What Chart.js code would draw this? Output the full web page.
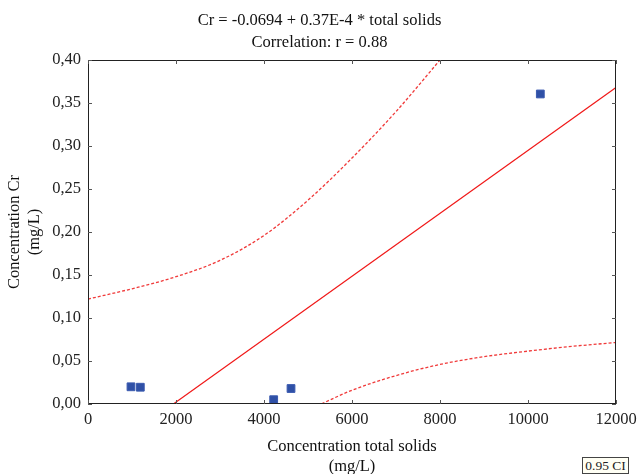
<!DOCTYPE html>
<html>
<head>
<meta charset="utf-8">
<script src="https://cdn.jsdelivr.net/npm/chart.js@4.4.1/dist/chart.umd.min.js"></script>
<style>
  html, body { margin: 0; padding: 0; background: #fff; }
  #wrap { position: relative; width: 639px; height: 474px; }
  #ci-box {
    position: absolute; left: 582px; top: 457px;
    width: 45px; height: 15px; line-height: 15px;
    border: 1px solid #444; background: #fffff4;
    font-family: "Liberation Serif", serif; font-size: 13.5px; font-weight: normal; color: #222;
    text-align: center;
  }
</style>
</head>
<body>
<div id="wrap">
  <canvas id="cr" width="639" height="474"></canvas>
  <div id="ci-box">0.95 CI</div>
</div>
<script>
// observed samples: total solids (mg/L) vs Cr (mg/L)
const solids = [977, 1189, 4220, 4614, 10280];
const chrom = [0.020, 0.0195, 0.005, 0.018, 0.3605];

// fitted line
const fitX = [1940, 12000];
const fitY = [0, 0.368];

// 0.95 confidence band
const upX = [0, 1000, 2000, 3000, 4000, 5000, 6000, 7000, 8000];
const upY = [0.122, 0.134, 0.148, 0.167, 0.196, 0.237, 0.286, 0.340, 0.400];
const loX = [5000, 5300, 6000, 7000, 8000, 9000, 10000, 11000, 12000];
const loY = [-0.007, 0.0, 0.016, 0.033, 0.046, 0.055, 0.0615, 0.067, 0.0715];

const xTicks = [0, 2000, 4000, 6000, 8000, 10000, 12000];
const yTicks = [0, 0.05, 0.10, 0.15, 0.20, 0.25, 0.30, 0.35, 0.40];

const serif = '"Liberation Serif", "Times New Roman", serif';
const fs = 16.5;
const pts = (xs, ys) => xs.map((x, i) => ({ x: x, y: ys[i] }));

// box + inward tick marks on all four sides
const frameTicks = {
    id: 'frameTicks',
    afterDraw(chart) {
        const { ctx, chartArea: a, scales } = chart;
        ctx.save();
        ctx.strokeStyle = '#222';
        ctx.lineWidth = 1;
        ctx.strokeRect(a.left + 0.5, a.top + 0.5, a.right - a.left - 1, a.bottom - a.top - 1);
        ctx.strokeStyle = '#555';
        ctx.beginPath();
        xTicks.forEach(v => {
            let px = Math.round(scales.x.getPixelForValue(v)) + 0.5;
            ctx.moveTo(px, a.bottom); ctx.lineTo(px, a.bottom - 4);
            ctx.moveTo(px, a.top); ctx.lineTo(px, a.top + 4);
        });
        yTicks.forEach(v => {
            let py = Math.round(scales.y.getPixelForValue(v)) + 0.5;
            ctx.moveTo(a.left, py); ctx.lineTo(a.left + 4, py);
            ctx.moveTo(a.right, py); ctx.lineTo(a.right - 4, py);
        });
        ctx.stroke();
        ctx.restore();
    }
};

const red = '#f01818';
const band = {
    showLine: true, borderColor: '#f03a3a', borderWidth: 1.3, borderDash: [3, 2],
    pointRadius: 0, cubicInterpolationMode: 'monotone', fill: false
};

new Chart(document.getElementById('cr'), {
    type: 'scatter',
    data: {
        datasets: [
            Object.assign({ data: pts(upX, upY) }, band),
            Object.assign({ data: pts(loX, loY) }, band),
            { data: pts(fitX, fitY), showLine: true, borderColor: red, borderWidth: 1.2, pointRadius: 0 },
            {
                data: pts(solids, chrom), pointStyle: 'rect', pointRadius: 5.5,
                backgroundColor: '#2f50a6', borderColor: '#3a5ab0', borderWidth: 1
            }
        ]
    },
    options: {
        responsive: false,
        animation: false,
        layout: { padding: 0 },
        plugins: {
            legend: { display: false },
            tooltip: { enabled: false },
            title: {
                display: true,
                text: ['Cr = -0.0694 + 0.37E-4 * total solids', 'Correlation: r = 0.88'],
                color: '#111',
                font: { family: serif, size: fs, weight: 'normal', lineHeight: 22 / fs },
                padding: { top: 10, bottom: 6 }
            }
        },
        scales: {
            x: {
                type: 'linear', min: 0, max: 12000,
                afterBuildTicks: s => { s.ticks = xTicks.map(v => ({ value: v })); },
                afterFit: s => { s.height = 70; s.paddingLeft = 0; s.paddingRight = 23; },
                grid: { display: false, drawTicks: false },
                border: { display: false },
                ticks: { color: '#222', padding: 6, font: { family: serif, size: fs }, callback: v => String(v) },
                title: {
                    display: true, text: ['Concentration total solids', '(mg/L)'], color: '#111',
                    font: { family: serif, size: fs, lineHeight: 20 / fs },
                    padding: { top: 0, bottom: -3 }
                }
            },
            y: {
                type: 'linear', min: 0, max: 0.40,
                afterBuildTicks: s => { s.ticks = yTicks.map(v => ({ value: v })); },
                afterFit: s => { s.width = 88; s.paddingTop = 0; s.paddingBottom = 0; },
                grid: { display: false, drawTicks: false },
                border: { display: false },
                ticks: { color: '#222', padding: 7, font: { family: serif, size: fs }, callback: v => v.toFixed(2).replace('.', ',') },
                title: {
                    display: true, text: ['Concentration Cr', '(mg/L)'], color: '#111',
                    font: { family: serif, size: fs, lineHeight: 20 / fs },
                    padding: { top: 5, bottom: 0 }
                }
            }
        }
    },
    plugins: [frameTicks]
});
</script>
</body>
</html>
